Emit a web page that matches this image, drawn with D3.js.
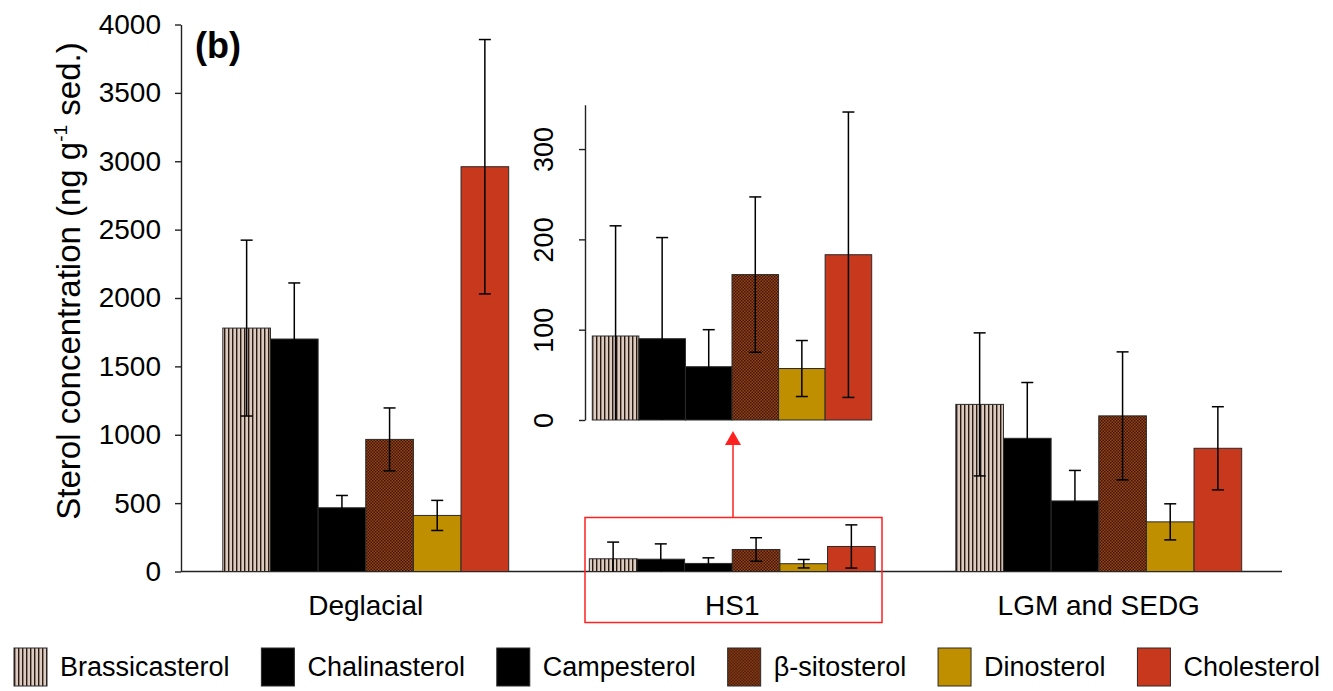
<!DOCTYPE html>
<html>
<head>
<meta charset="utf-8">
<script src="https://cdn.jsdelivr.net/npm/d3@7"></script>
<style>
  body { margin: 0; background: #fff; }
  svg { display: block; font-family: "Liberation Sans", Arial, sans-serif; }
</style>
</head>
<body>
<svg width="1333" height="691"></svg>
<script>
//-- data --//
const groups = ["Deglacial", "HS1", "LGM and SEDG"];
const sterols = ["Brassicasterol", "Chalinasterol", "Campesterol", "β-sitosterol", "Dinosterol", "Cholesterol"];
const deglacial    = [1780, 1700, 466, 966, 410, 2960];
const deglacialErr = [643, 410, 90, 230, 110, 930];
const hs1          = [93, 90, 59, 161, 57, 183];
const hs1Err       = [122, 112, 41, 86, 31, 158];
const lgm          = [1222, 974, 516, 1138, 363, 901];
const lgmErr       = [523, 408, 223, 468, 132, 304];
const yTicks = [0, 500, 1000, 1500, 2000, 2500, 3000, 3500, 4000];
const insetTicks = [0, 100, 200, 300];

const values = [deglacial, hs1, lgm];
const errors = [deglacialErr, hs1Err, lgmErr];
const rows = groups.flatMap((g, i) => sterols.map((s, j) => ({group: g, key: s, value: values[i][j], err: errors[i][j]})));

const fills = {
  "Brassicasterol": "url(#stripes)",
  "Chalinasterol": "#000",
  "Campesterol": "#000",
  "β-sitosterol": "url(#checks)",
  "Dinosterol": "#c08f00",
  "Cholesterol": "#c8381d"
};

const svg = d3.select("svg");

//-- patterns --//
const defs = svg.append("defs");
const stripes = defs.append("pattern").attr("id", "stripes")
    .attr("patternUnits", "userSpaceOnUse").attr("width", 4).attr("height", 4);
stripes.append("rect").attr("width", 4).attr("height", 4).attr("fill", "#dccbc0");
stripes.append("rect").attr("width", 1.4).attr("height", 4).attr("fill", "#2a1a12");

const checks = defs.append("pattern").attr("id", "checks")
    .attr("patternUnits", "userSpaceOnUse").attr("width", 3).attr("height", 3);
checks.append("rect").attr("width", 3).attr("height", 3).attr("fill", "#9a4418");
checks.append("rect").attr("width", 1.5).attr("height", 1.5).attr("fill", "#3a1506");
checks.append("rect").attr("x", 1.5).attr("y", 1.5).attr("width", 1.5).attr("height", 1.5).attr("fill", "#3a1506");

//-- scales --//
const x = d3.scaleBand().domain(groups).range([182.5, 1282]).paddingInner(0.22).paddingOuter(0.11);
const xs = d3.scaleBand().domain(sterols).range([0, x.bandwidth()]);
const y = d3.scaleLinear().domain([0, 4000]).range([571.5, 24.5]);

//-- y axis --//
const yAxis = svg.append("g")
    .attr("transform", "translate(181,0)")
    .call(d3.axisLeft(y).tickValues(yTicks).tickFormat(d3.format("d")).tickSize(6).tickSizeOuter(0).tickPadding(14));
yAxis.selectAll("text").attr("font-size", 28).attr("font-family", "Liberation Sans, Arial").attr("fill", "#000");
yAxis.selectAll("line, path").attr("stroke", "#222").attr("stroke-width", 1.4);

svg.append("text")
    .attr("transform", "translate(80,281) rotate(-90)")
    .attr("text-anchor", "middle")
    .attr("font-size", 33)
    .call(t => {
      t.append("tspan").text("Sterol concentration (ng g");
      t.append("tspan").attr("font-size", 19).attr("dy", -13).text("-1");
      t.append("tspan").attr("dy", 13).text(" sed.)");
    });

svg.append("text")
    .attr("x", 195).attr("y", 58)
    .attr("font-size", 36).attr("font-weight", "bold")
    .text("(b)");

//-- x axis --//
svg.append("line")
    .attr("x1", 181).attr("x2", x.range()[1])
    .attr("y1", y(0)).attr("y2", y(0))
    .attr("stroke", "#222").attr("stroke-width", 1.4);

svg.append("g").selectAll("text")
    .data(groups).join("text")
    .attr("x", d => x(d) + x.bandwidth() / 2)
    .attr("y", 615)
    .attr("text-anchor", "middle")
    .attr("font-size", 28)
    .text(d => d);

//-- bars --//
function drawBars(g, data, xg, yy, x0) {
  g.selectAll("rect.bar")
    .data(data).join("rect").attr("class", "bar")
    .attr("x", d => x0(d) + xg(d.key))
    .attr("y", d => yy(d.value))
    .attr("width", xg.bandwidth())
    .attr("height", d => yy(0) - yy(d.value))
    .attr("fill", d => fills[d.key])
    .attr("stroke", "#2a2a2a").attr("stroke-width", 1);

  const eb = g.selectAll("g.err").data(data).join("g").attr("class", "err")
      .attr("transform", d => `translate(${x0(d) + xg(d.key) + xg.bandwidth() / 2},0)`)
      .attr("stroke", "#000").attr("stroke-width", 1.5);
  eb.append("line")
    .attr("y1", d => yy(Math.max(0, d.value - d.err)))
    .attr("y2", d => yy(d.value + d.err));
  eb.append("line").attr("x1", -6).attr("x2", 6)
    .attr("y1", d => yy(d.value + d.err)).attr("y2", d => yy(d.value + d.err));
  eb.filter(d => d.value - d.err > 0).append("line").attr("x1", -6).attr("x2", 6)
    .attr("y1", d => yy(d.value - d.err)).attr("y2", d => yy(d.value - d.err));
}

drawBars(svg.append("g"), rows, xs, y, d => x(d.group));

//-- inset for HS1 --//
const xi = d3.scaleBand().domain(sterols).range([592.3, 871.7]);
const yi = d3.scaleLinear().domain([0, 349]).range([420, 104.8]);

const insetAxis = svg.append("g")
    .attr("transform", "translate(585,0)")
    .call(d3.axisLeft(yi).tickValues(insetTicks).tickSize(6).tickSizeOuter(0));
insetAxis.selectAll("line, path").attr("stroke", "#222").attr("stroke-width", 1.4);
insetAxis.selectAll("text")
    .attr("x", null).attr("dy", null)
    .attr("transform", "translate(-32,0) rotate(-90)")
    .attr("text-anchor", "middle")
    .attr("font-size", 27).attr("fill", "#000");

drawBars(svg.append("g"), rows.filter(d => d.group === "HS1"), xi, yi, () => 0);

//-- red highlight --//
svg.append("rect")
    .attr("x", 585).attr("y", 517.5)
    .attr("width", 297).attr("height", 105)
    .attr("fill", "none").attr("stroke", "#ff2020").attr("stroke-width", 1.5);
svg.append("line")
    .attr("x1", 733).attr("x2", 733).attr("y1", 517.5).attr("y2", 444)
    .attr("stroke", "#ff2020").attr("stroke-width", 1.5);
svg.append("path")
    .attr("d", d3.line()([[725, 445], [741, 445], [733, 431]]) + "Z")
    .attr("fill", "#ff2020");

//-- legend --//
const legend = svg.append("g");
const items = legend.selectAll("g").data(sterols).join("g");
items.append("rect")
    .attr("width", 33).attr("height", 38).attr("y", 648)
    .attr("fill", d => fills[d])
    .attr("stroke", "#2a2a2a").attr("stroke-width", 1);
items.append("text")
    .attr("x", 46).attr("y", 676)
    .attr("font-size", 27)
    .text(d => d);

const widths = items.nodes().map(n => 46 + n.querySelector("text").getComputedTextLength());
const gap = (1320 - 14 - d3.sum(widths)) / (sterols.length - 1);
let cx = 14;
items.each(function(d, i) {
  d3.select(this).attr("transform", `translate(${cx},0)`);
  cx += widths[i] + gap;
});
</script>
</body>
</html>
